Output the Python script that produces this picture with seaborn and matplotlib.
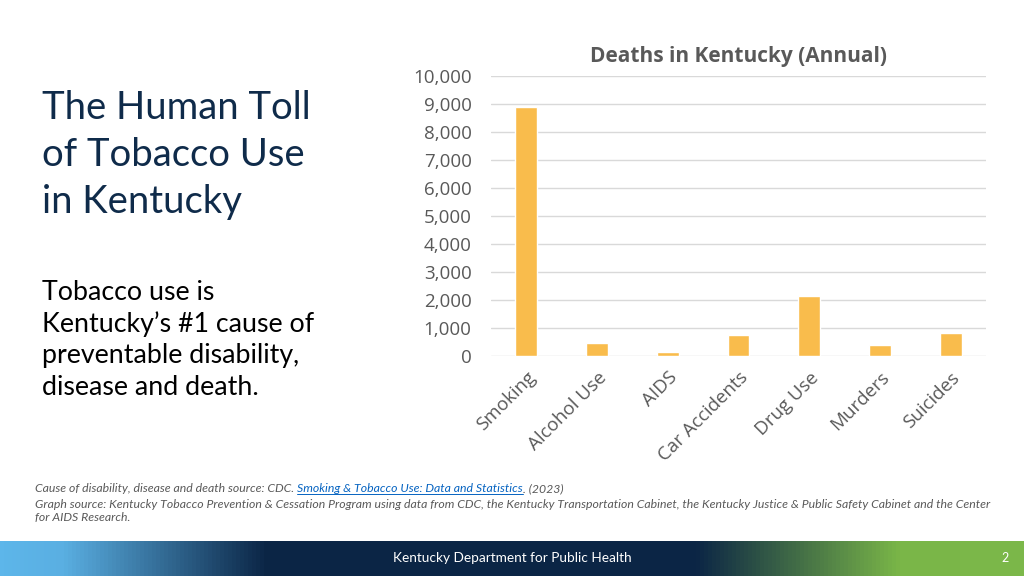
import numpy as np
import seaborn as sns
import matplotlib.pyplot as plt
from matplotlib.ticker import FuncFormatter, MultipleLocator
from matplotlib.colors import LinearSegmentedColormap

# ---------------- data ----------------
causes = ["Smoking", "Alcohol Use", "AIDS", "Car Accidents", "Drug Use", "Murders", "Suicides"]
deaths = [8890, 470, 140, 740, 2140, 400, 810]

title_lines = ["The Human Toll", "of Tobacco Use", "in Kentucky"]
body_lines = ["Tobacco use is", "Kentucky\u2019s #1 cause of", "preventable disability,", "disease and death."]

BAR = "#F9BC4C"
GREY = "#595959"
NAVY = "#0F2B4A"

sns.set_theme(style="white")
plt.rcParams["font.family"] = ["Open Sans", "DejaVu Sans"]

fig = plt.figure(figsize=(10.24, 5.76), dpi=100)
fig.patch.set_facecolor("white")

# ---------------- chart ----------------
ax = fig.add_axes([0.4795, 0.382, 0.4834, 0.486])
sns.barplot(x=causes, y=deaths, color=BAR, width=0.31, saturation=1, ax=ax)
ax.set_ylim(0, 10000)
ax.yaxis.set_major_locator(MultipleLocator(1000))
ax.yaxis.set_major_formatter(FuncFormatter(lambda v, p: f"{int(v):,}"))
ax.grid(axis="y", color="#D9D9D9", linewidth=1)
ax.set_axisbelow(True)
for s in ax.spines.values():
    s.set_visible(False)
ax.tick_params(axis="both", length=0, labelsize=13.5, colors=GREY)
ax.tick_params(axis="y", pad=14)
ax.tick_params(axis="x", pad=9)
ax.set_xlabel("")
ax.set_ylabel("")
plt.setp(ax.get_xticklabels(), rotation=45, ha="right", rotation_mode="anchor")
ax.set_xlim(-0.5, len(causes) - 0.5)
ax.set_title("Deaths in Kentucky (Annual)", fontsize=15, fontweight="bold",
             color=GREY, pad=10)

# ---------------- slide text ----------------
slide_font = ["Lato", "DejaVu Sans"]
for i, line in enumerate(title_lines):
    fig.text(42 / 1024, 1 - (108 + i * 47) / 576, line, fontsize=27.5, color=NAVY,
             family=slide_font, va="center")
for i, line in enumerate(body_lines):
    fig.text(42 / 1024, 1 - (292 + i * 31.7) / 576, line, fontsize=19.3, color="black",
             family=slide_font, va="center")

# footnotes
note_kw = dict(fontsize=8.8, style="italic", family=slide_font)
t1 = fig.text(35 / 1024, 1 - 489 / 576, "Cause of disability, disease and death source: CDC. ",
              color=GREY, va="center", **note_kw)
t2 = fig.text(0, 0, "Smoking & Tobacco Use: Data and Statistics", color="#0563C1",
              va="center", **note_kw)
t3 = fig.text(0, 0, ". (2023)", color=GREY, va="center", **note_kw)
fig.text(35 / 1024, 1 - 504 / 576,
         "Graph source: Kentucky Tobacco Prevention & Cessation Program using data from CDC, the Kentucky "
         "Transportation Cabinet, the Kentucky Justice & Public Safety Cabinet and the Center",
         color=GREY, va="center", **note_kw)
fig.text(35 / 1024, 1 - 518 / 576, "for AIDS Research.", color=GREY, va="center", **note_kw)

fig.canvas.draw()
r = fig.canvas.get_renderer()
inv = fig.transFigure.inverted()
bb1 = t1.get_window_extent(r)
t2.set_position((inv.transform((bb1.x1, 0))[0], 1 - 489 / 576))
bb2 = t2.get_window_extent(r)
t3.set_position((inv.transform((bb2.x1, 0))[0], 1 - 489 / 576))
(ux0, uy), (ux1, _) = inv.transform([(bb2.x0, bb2.y0 + 1), (bb2.x1, bb2.y0 + 1)])
fig.add_artist(plt.Line2D([ux0, ux1], [uy, uy], color="#0563C1", linewidth=0.7))

# ---------------- footer band ----------------
band = fig.add_axes([0, 0, 1, 35 / 576])
cmap = LinearSegmentedColormap.from_list(
    "band", [(0, "#5DB6EA"), (0.06, "#5AAFE2"), (0.26, "#0B2545"),
             (0.68, "#0B2545"), (0.88, "#7AB648"), (1, "#7CB84A")])
band.imshow(np.linspace(0, 1, 512)[None, :], aspect="auto", cmap=cmap, extent=[0, 1, 0, 1])
band.set_axis_off()
band.text(0.5, 0.5, "Kentucky Department for Public Health", color="white", fontsize=9.8,
          family=slide_font, ha="center", va="center")
band.text(1005 / 1024, 0.5, "2", color="white", fontsize=9, family=slide_font,
          ha="center", va="center")

fig.savefig("out.png", dpi=100, facecolor="white")
